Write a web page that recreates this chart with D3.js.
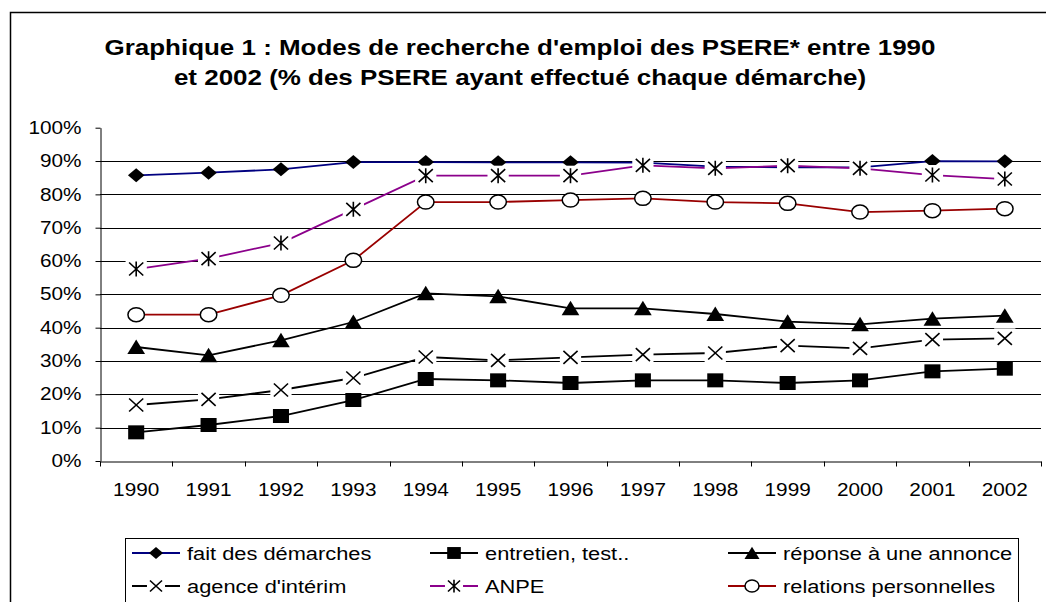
<!DOCTYPE html>
<html>
<head>
<meta charset="utf-8">
<script src="https://cdn.jsdelivr.net/npm/d3@7"></script>
<style>
  html, body { margin: 0; padding: 0; background: #fff; }
  svg { display: block; font-family: "Liberation Sans", Arial, sans-serif; }
</style>
</head>
<body>
<div id="chart"></div>
<script>
var years = ['1990', '1991', '1992', '1993', '1994', '1995', '1996', '1997', '1998', '1999', '2000', '2001', '2002']
var yTicks = [0, 10, 20, 30, 40, 50, 60, 70, 80, 90, 100]

var faitDemarches = [85.7, 86.5, 87.5, 89.7, 89.7, 89.6, 89.6, 89.5, 88.3, 88.1, 88.1, 90.0, 89.9]
var entretienTest = [8.6, 10.8, 13.5, 18.3, 24.6, 24.2, 23.4, 24.2, 24.2, 23.4, 24.2, 26.9, 27.7]
var reponseAnnonce = [34.2, 31.7, 36.2, 41.7, 50.3, 49.4, 45.8, 45.8, 44.1, 41.8, 41.0, 42.7, 43.6]
var agenceInterim = [16.8, 18.5, 21.3, 24.9, 31.2, 30.2, 31.1, 31.9, 32.4, 34.6, 33.8, 36.4, 36.8]
var anpe = [57.6, 60.7, 65.4, 75.5, 85.6, 85.6, 85.6, 88.7, 87.8, 88.6, 87.8, 85.8, 84.6]
var relationsPerso = [43.9, 43.9, 49.7, 60.2, 77.7, 77.7, 78.3, 78.8, 77.7, 77.3, 74.7, 75.1, 75.7]

var titleLines = [
  "Graphique 1 : Modes de recherche d'emploi des PSERE* entre 1990",
  "et 2002 (% des PSERE ayant effectué chaque démarche)"
]

var series = [
  { name: 'fait des démarches', values: faitDemarches, color: '#000080', marker: 'diamond' },
  { name: 'entretien, test..', values: entretienTest, color: '#000', marker: 'square' },
  { name: 'réponse à une annonce', values: reponseAnnonce, color: '#000', marker: 'triangle' },
  { name: "agence d'intérim", values: agenceInterim, color: '#000', marker: 'cross' },
  { name: 'ANPE', values: anpe, color: '#8b008b', marker: 'star' },
  { name: 'relations personnelles', values: relationsPerso, color: '#990000', marker: 'circle' }
]

// the picture is a bit wider than tall, so text and markers get stretched
var stretch = 1.18
var width = 1046, height = 602

var svg = d3.select('#chart').append('svg')
  .attr('width', width)
  .attr('height', height)

svg.append('rect')
  .attr('x', 10.5).attr('y', 12.5)
  .attr('width', 1100).attr('height', 700)
  .attr('fill', '#fff')
  .attr('stroke', '#000')
  .attr('stroke-width', 1.5)

svg.selectAll('.title')
  .data(titleLines)
  .enter()
  .append('text')
  .attr('class', 'title')
  .attr('transform', function (d, i) {
    return 'translate(520,' + (55 + i * 30) + ') scale(' + stretch + ',1)'
  })
  .attr('text-anchor', 'middle')
  .attr('font-weight', 'bold')
  .attr('font-size', 22)
  .attr('fill', '#000')
  .text(function (d) { return d })

var x = d3.scaleBand().domain(years).range([100, 1041])
var y = d3.scaleLinear().domain([0, 100]).range([461, 127.7])

function cx(i) {
  return x(years[i]) + x.bandwidth() / 2
}

// gridlines
svg.append('g')
  .selectAll('line')
  .data(yTicks.filter(function (d) { return d > 0 && d < 100 }))
  .enter()
  .append('line')
  .attr('x1', 100).attr('x2', 1041)
  .attr('y1', function (d) { return Math.round(y(d)) + 0.5 })
  .attr('y2', function (d) { return Math.round(y(d)) + 0.5 })
  .attr('stroke', '#000')
  .attr('stroke-width', 1)

function stretchText(g) {
  g.selectAll('text').each(function () {
    var t = d3.select(this)
    var tx = +t.attr('x') || 0
    t.attr('x', tx / stretch).attr('transform', 'scale(' + stretch + ',1)')
  })
}

var yAxis = svg.append('g')
  .attr('transform', 'translate(100.5,0)')
  .call(d3.axisLeft(y)
    .tickValues(yTicks)
    .tickSize(5)
    .tickSizeOuter(0)
    .tickPadding(14)
    .tickFormat(function (d) { return d + '%' }))
yAxis.selectAll('text').attr('font-size', 17.6).attr('fill', '#000').attr('font-family', null)
yAxis.selectAll('line,path').attr('stroke', '#000')
stretchText(yAxis)

var xAxis = svg.append('g')
  .attr('transform', 'translate(0,461.5)')
  .call(d3.axisBottom(x).tickSize(0).tickSizeOuter(0).tickPadding(22))
xAxis.selectAll('text').attr('font-size', 17.6).attr('fill', '#000').attr('font-family', null)
xAxis.select('.domain').attr('stroke', '#000')
stretchText(xAxis)

xAxis.selectAll('.bound')
  .data(d3.range(years.length + 1))
  .enter()
  .append('line')
  .attr('class', 'bound')
  .attr('x1', function (d) { return Math.round(x.range()[0] + d * x.step()) + 0.5 })
  .attr('x2', function (d) { return Math.round(x.range()[0] + d * x.step()) + 0.5 })
  .attr('y1', 0).attr('y2', 5)
  .attr('stroke', '#000')

function drawMarker(g, type, k) {
  if (type === 'diamond') {
    g.append('path').attr('d', 'M0,-7L7,0L0,7L-7,0Z').attr('fill', '#000')
  } else if (type === 'square') {
    g.append('rect').attr('x', -6.8).attr('y', -7).attr('width', 13.6).attr('height', 14).attr('fill', '#000')
  } else if (type === 'triangle') {
    g.append('path').attr('d', 'M0,-7.5L7.5,7L-7.5,7Z').attr('fill', '#000')
  } else if (type === 'cross' || type === 'star') {
    g.append('rect').attr('x', -9).attr('y', -10).attr('width', 18).attr('height', 20).attr('fill', '#fff')
    var d = 'M-6,-6.5L6,6.5M-6,6.5L6,-6.5'
    if (type === 'star') d += 'M0,-7.5L0,7.5'
    g.append('path').attr('d', d)
      .attr('fill', 'none')
      .attr('stroke', '#000')
      .attr('stroke-width', 1.6)
      .attr('vector-effect', 'non-scaling-stroke')
  } else if (type === 'circle') {
    g.append('circle').attr('r', 7)
      .attr('fill', '#fff')
      .attr('stroke', '#000')
      .attr('stroke-width', 1.5)
      .attr('vector-effect', 'non-scaling-stroke')
  }
}

var line = d3.line()
  .x(function (d, i) { return cx(i) })
  .y(function (d) { return y(d) })

var plot = svg.append('g')

series.forEach(function (s) {
  var g = plot.append('g')
  g.append('path')
    .datum(s.values)
    .attr('d', line)
    .attr('fill', 'none')
    .attr('stroke', s.color)
    .attr('stroke-width', 1.8)

  g.selectAll('.mk')
    .data(s.values)
    .enter()
    .append('g')
    .attr('class', 'mk')
    .attr('transform', function (d, i) {
      return 'translate(' + cx(i) + ',' + y(d) + ') scale(' + stretch + ',1)'
    })
    .each(function () { drawMarker(d3.select(this), s.marker) })
})

// legend
var legend = svg.append('g')
legend.append('rect')
  .attr('x', 125.5).attr('y', 538.5)
  .attr('width', 893).attr('height', 100)
  .attr('fill', '#fff')
  .attr('stroke', '#000')

var item = legend.selectAll('.item')
  .data(series)
  .enter()
  .append('g')
  .attr('class', 'item')
  .attr('transform', function (d, i) {
    return 'translate(' + (132 + (i % 3) * 298) + ',' + (553 + Math.floor(i / 3) * 33) + ')'
  })

item.append('line')
  .attr('x1', 0).attr('x2', 48)
  .attr('stroke', function (d) { return d.color })
  .attr('stroke-width', 1.8)

item.append('g')
  .attr('transform', 'translate(24,0) scale(' + (stretch * 0.85) + ',0.85)')
  .each(function (d) { drawMarker(d3.select(this), d.marker) })

item.append('text')
  .attr('transform', 'translate(55,6.5) scale(' + stretch + ',1)')
  .attr('font-size', 18.5)
  .attr('fill', '#000')
  .text(function (d) { return d.name })
</script>
</body>
</html>
